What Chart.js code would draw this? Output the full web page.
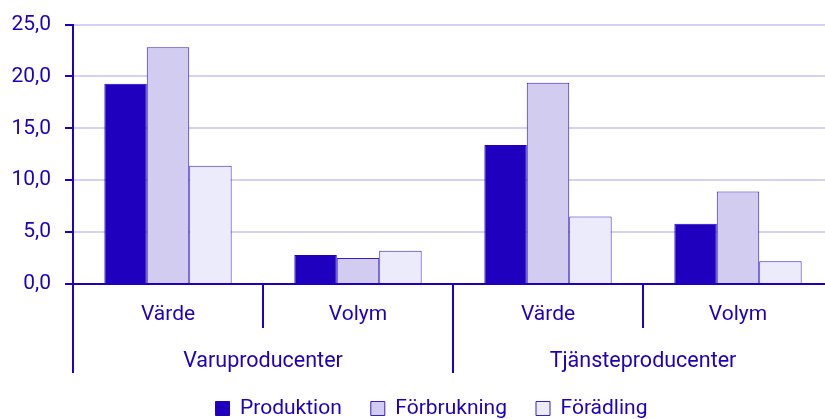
<!DOCTYPE html>
<html>
<head>
<meta charset="utf-8">
<script src="https://cdn.jsdelivr.net/npm/chart.js@4"></script>
<style>
  html, body { margin: 0; padding: 0; background: #fff; overflow: hidden; }
  #wrap { width: 825px; height: 419px; overflow: hidden; }
</style>
</head>
<body>
<div id="wrap"><canvas id="chart" width="833" height="419"></canvas></div>
<script>
const categories = ['Värde', 'Volym', 'Värde', 'Volym'];
const groups = ['Varuproducenter', 'Tjänsteproducenter'];
const produktion = [19.3, 2.8, 13.4, 5.8];
const forbrukning = [22.8, 2.5, 19.4, 8.9];
const foradling = [11.4, 3.2, 6.5, 2.2];
const yTicks = [0, 5, 10, 15, 20, 25];

const dark = '#1e00be';
const fontFamily = 'Roboto';

// second level of x axis: separators and group names
const groupAxis = {
  id: 'groupAxis',
  afterLayout(chart) {
    // legend sits a bit right of the canvas centre in the original
    chart.legend.left += 15;
    chart.legend.right += 15;
  },
  afterDraw(chart) {
    const ctx = chart.ctx;
    const x = chart.scales.x;
    const top = x.top;
    const half = (x.getPixelForValue(1) - x.getPixelForValue(0)) / 2;
    ctx.save();
    ctx.strokeStyle = dark;
    ctx.lineWidth = 2;
    for (let i = 0; i <= categories.length; i++) {
      const bx = Math.round(x.getPixelForValue(0) - half + i * 2 * half);
      const len = i % 2 === 0 ? 89 : 44;
      ctx.beginPath();
      ctx.moveTo(bx, top);
      ctx.lineTo(bx, top + len);
      ctx.stroke();
    }
    ctx.fillStyle = dark;
    ctx.font = '21.5px ' + fontFamily;
    ctx.textAlign = 'center';
    ctx.textBaseline = 'middle';
    groups.forEach((g, gi) => {
      const cx = (x.getPixelForValue(gi * 2) + x.getPixelForValue(gi * 2 + 1)) / 2;
      ctx.fillText(g, cx, top + 78);
    });
    ctx.restore();
  }
};

const ctx = document.getElementById('chart').getContext('2d');
new Chart(ctx, {
  type: 'bar',
  data: {
    labels: categories,
    datasets: [
      { label: 'Produktion', data: produktion, backgroundColor: dark, borderColor: dark, borderWidth: 1 },
      { label: 'Förbrukning', data: forbrukning, backgroundColor: '#d2cdf0', borderColor: '#3a1fc8', borderWidth: 1 },
      { label: 'Förädling', data: foradling, backgroundColor: '#ecebfc', borderColor: '#3a1fc8', borderWidth: 1 }
    ]
  },
  options: {
    responsive: false,
    animation: false,
    layout: { padding: { left: 0, right: 0, top: 15, bottom: -10 } },
    datasets: { bar: { categoryPercentage: 0.67, barPercentage: 1 } },
    scales: {
      x: {
        grid: { display: false, drawTicks: false },
        border: { display: true, color: dark, width: 2 },
        ticks: { color: dark, font: { family: fontFamily, size: 21 }, padding: 18, maxRotation: 0 },
        afterFit(scale) { scale.height = 85; }
      },
      y: {
        min: 0,
        max: 25,
        afterBuildTicks(scale) { scale.ticks = yTicks.map(v => ({ value: v })); },
        grid: { color: '#d4d2f0', lineWidth: 2, tickColor: dark, tickLength: 8 },
        border: { color: dark, width: 2 },
        ticks: {
          color: dark,
          padding: 14,
          font: { family: fontFamily, size: 21, lineHeight: 1 },
          callback: v => v.toFixed(1).replace('.', ',')
        },
        afterFit(scale) { scale.width = 73; }
      }
    },
    plugins: {
      legend: {
        position: 'bottom',
        labels: {
          color: dark,
          font: { family: fontFamily, size: 21 },
          boxWidth: 14,
          boxHeight: 14,
          padding: 29
        }
      },
      tooltip: { enabled: false }
    }
  },
  plugins: [groupAxis]
});
</script>
</body>
</html>
